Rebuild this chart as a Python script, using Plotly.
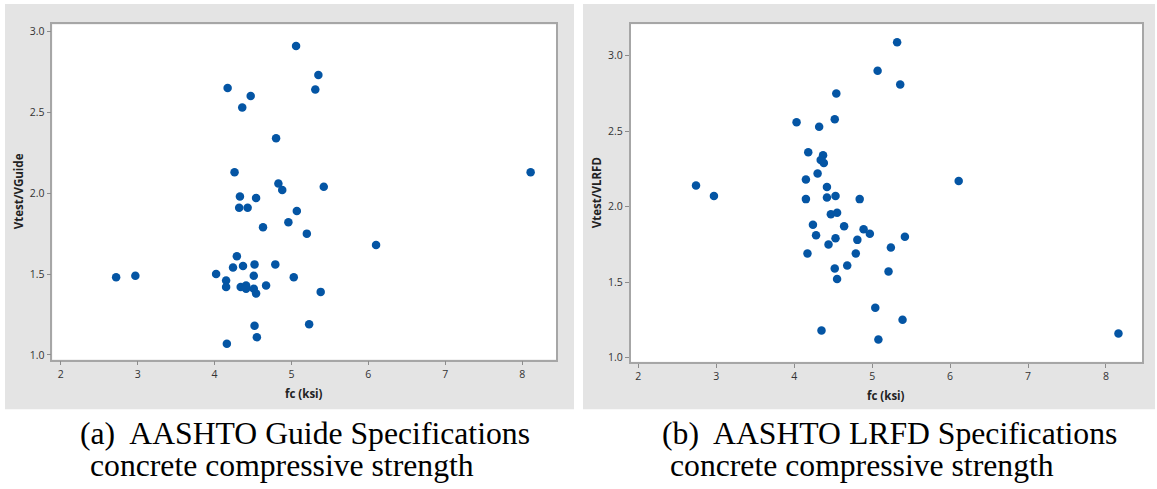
import plotly.graph_objects as go

W, H = 1157, 489

# ---- data ----
fc_guide = [5.06, 5.35, 5.31, 4.17, 4.47, 4.36, 4.80, 4.26, 4.83, 4.88, 5.42, 4.33,
            4.54, 4.32, 4.43, 5.07, 4.96, 4.63, 5.20, 6.10, 4.29, 4.24, 4.37, 4.52,
            4.79, 4.02, 4.15, 4.51, 5.03, 4.15, 4.34, 4.41, 4.41, 4.51, 4.54, 4.67,
            5.38, 4.52, 5.23, 4.55, 4.16, 8.11, 2.72, 2.97]
ratio_guide = [2.91, 2.73, 2.64, 2.65, 2.60, 2.53, 2.34, 2.13, 2.06, 2.02, 2.04, 1.98,
               1.97, 1.91, 1.91, 1.89, 1.82, 1.79, 1.75, 1.68, 1.61, 1.54, 1.55, 1.56,
               1.56, 1.50, 1.46, 1.49, 1.48, 1.42, 1.42, 1.43, 1.41, 1.41, 1.38, 1.43,
               1.39, 1.18, 1.19, 1.11, 1.07, 2.13, 1.48, 1.49]

fc_lrfd = [5.07, 4.54, 4.03, 4.32, 4.52, 4.18, 4.37, 4.34, 4.38, 4.30, 4.15, 4.42,
           2.74, 2.97, 4.15, 4.42, 4.53, 4.84, 4.47, 4.55, 4.24, 4.64, 4.89, 4.97,
           5.42, 4.28, 4.53, 4.81, 5.24, 4.44, 4.17, 4.79, 4.68, 4.52, 5.21, 4.55,
           5.04, 5.39, 4.35, 5.08, 5.32, 5.36, 6.11, 8.16]
ratio_lrfd = [2.90, 2.75, 2.56, 2.53, 2.58, 2.36, 2.34, 2.31, 2.29, 2.22, 2.18, 2.13,
              2.14, 2.07, 2.05, 2.06, 2.07, 2.05, 1.95, 1.96, 1.88, 1.87, 1.85, 1.82,
              1.80, 1.81, 1.79, 1.78, 1.73, 1.75, 1.69, 1.69, 1.61, 1.59, 1.57, 1.52,
              1.33, 1.25, 1.18, 1.12, 3.09, 2.81, 2.17, 1.16]

x_ticks = [2, 3, 4, 5, 6, 7, 8]
y_ticks = [1.0, 1.5, 2.0, 2.5, 3.0]
x_title = "fc (ksi)"
y_title_a = "Vtest/VGuide"
y_title_b = "Vtest/VLRFD"
cap_a = ["(a)\u00a0 AASHTO Guide Specifications", "concrete compressive strength"]
cap_b = ["(b)\u00a0 AASHTO LRFD Specifications", "concrete compressive strength"]

BLUE = "#0455a4"
GRAY_BG = "#e4e4e4"


def px(x):
    return x / W


def py(y):
    return 1 - y / H


fig = go.Figure()
fig.add_trace(go.Scatter(x=fc_guide, y=ratio_guide, mode="markers",
                         marker=dict(color=BLUE, size=8.5, line=dict(width=0)),
                         xaxis="x", yaxis="y", showlegend=False))
fig.add_trace(go.Scatter(x=fc_lrfd, y=ratio_lrfd, mode="markers",
                         marker=dict(color=BLUE, size=8.5, line=dict(width=0)),
                         xaxis="x2", yaxis="y2", showlegend=False))

tickfont = dict(family="Open Sans, DejaVu Sans, sans-serif", size=10.5, color="#333333")
axis_common = dict(showgrid=False, zeroline=False, showline=True, mirror=True,
                   linecolor="#a6a6a6", linewidth=1.5, ticks="outside", ticklen=4,
                   tickcolor="#8c8c8c", tickwidth=1, tickfont=tickfont)

fig.update_layout(
    width=W, height=H,
    margin=dict(l=0, r=0, t=0, b=0),
    paper_bgcolor="white", plot_bgcolor="white",
    xaxis=dict(domain=[px(52.3), px(556)], range=[1.89, 8.44], tickvals=x_ticks,
               anchor="y", **axis_common),
    yaxis=dict(domain=[py(361), py(24.5)], range=[0.972, 3.043], tickvals=y_ticks,
               tickformat=".1f", anchor="x", **axis_common),
    xaxis2=dict(domain=[px(630.7), px(1142)], range=[1.902, 8.462], tickvals=x_ticks,
                anchor="y2", **axis_common),
    yaxis2=dict(domain=[py(363.3), py(24.3)], range=[0.972, 3.209], tickvals=y_ticks,
                tickformat=".1f", anchor="x2", **axis_common),
)

# grey panel backgrounds, then white plotting areas on top of them
fig.add_shape(type="rect", xref="paper", yref="paper", layer="below",
              x0=px(5), x1=px(574), y0=py(411), y1=py(4),
              fillcolor=GRAY_BG, line=dict(width=0))
fig.add_shape(type="rect", xref="paper", yref="paper", layer="below",
              x0=px(583), x1=px(1155), y0=py(411), y1=py(4),
              fillcolor=GRAY_BG, line=dict(width=0))
fig.add_shape(type="rect", xref="x domain", yref="y domain", layer="below",
              x0=0, x1=1, y0=0, y1=1, fillcolor="white", line=dict(width=0))
fig.add_shape(type="rect", xref="x2 domain", yref="y2 domain", layer="below",
              x0=0, x1=1, y0=0, y1=1, fillcolor="white", line=dict(width=0))

titlefont = dict(family="Open Sans, DejaVu Sans, sans-serif", size=11.5,
                 color="#222222", weight="bold")
ann = []
ann.append(dict(text=x_title, x=px(304), y=py(395), xref="paper", yref="paper",
                showarrow=False, font=titlefont, xanchor="center", yanchor="middle"))
ann.append(dict(text=x_title, x=px(886), y=py(397), xref="paper", yref="paper",
                showarrow=False, font=titlefont, xanchor="center", yanchor="middle"))
ann.append(dict(text=y_title_a, x=px(18), y=py(192), xref="paper", yref="paper",
                showarrow=False, font=titlefont, textangle=-90,
                xanchor="center", yanchor="middle"))
ann.append(dict(text=y_title_b, x=px(596), y=py(194), xref="paper", yref="paper",
                showarrow=False, font=titlefont, textangle=-90,
                xanchor="center", yanchor="middle"))

capfont = dict(family="Liberation Serif, Times New Roman, serif", size=31.7, color="black")
ann.append(dict(text=cap_a[0], x=px(78), y=py(435), xref="paper", yref="paper",
                showarrow=False, font=capfont, xanchor="left", yanchor="middle"))
ann.append(dict(text=cap_a[1], x=px(88), y=py(467), xref="paper", yref="paper",
                showarrow=False, font=capfont, xanchor="left", yanchor="middle"))
ann.append(dict(text=cap_b[0], x=px(660), y=py(435), xref="paper", yref="paper",
                showarrow=False, font=capfont, xanchor="left", yanchor="middle"))
ann.append(dict(text=cap_b[1], x=px(668), y=py(467), xref="paper", yref="paper",
                showarrow=False, font=capfont, xanchor="left", yanchor="middle"))
fig.update_layout(annotations=ann)

fig.write_html("out.html")
